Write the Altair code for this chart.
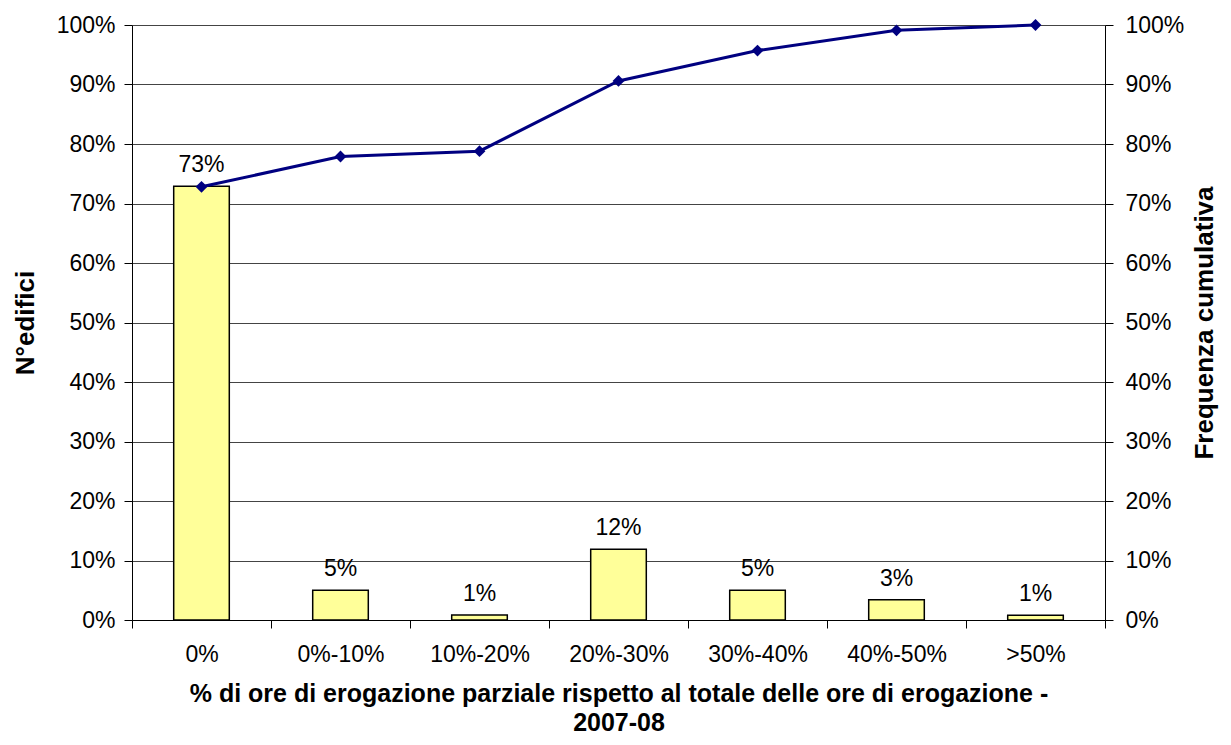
import altair as alt
import pandas as pd

categories = ["0%", "0%-10%", "10%-20%", "20%-30%", "30%-40%", "40%-50%", ">50%"]
edifici = [0.729, 0.050, 0.0085, 0.119, 0.050, 0.034, 0.008]
cumulativa = [0.728, 0.779, 0.788, 0.906, 0.957, 0.991, 1.0]

df = pd.DataFrame({"cat": categories, "edifici": edifici, "cum": cumulativa})

FONT = "Liberation Sans"
W, H = 973, 595
LFS, TFS = 23, 26

x = alt.X("cat:N", sort=categories, scale=alt.Scale(paddingInner=0, paddingOuter=0),
          axis=alt.Axis(title=["% di ore di erogazione parziale rispetto al totale delle ore di erogazione -", "2007-08"],
                        labelAngle=0, tickBand="extent", tickSize=8, tickColor="black",
                        domainColor="black", labelPadding=15, titlePadding=15,
                        labelFontSize=LFS, titleFontSize=25, titleFontWeight="bold",
                        labelFont=FONT, titleFont=FONT, labelColor="black", titleColor="black",
                        titleLineHeight=29))

yscale = alt.Scale(domain=[0, 1], nice=False, zero=True)

bars = alt.Chart(df).mark_bar(color="#FFFF99", stroke="black", strokeWidth=1.5,
                              width=alt.RelativeBandSize(0.4)).encode(
    x=x,
    y=alt.Y("edifici:Q", scale=yscale,
            axis=alt.Axis(title="N°edifici", format=".0%", values=[i / 10 for i in range(11)],
                          grid=True, gridColor="#444444", gridWidth=1, tickSize=8,
                          tickColor="black", domainColor="black", labelPadding=9,
                          titlePadding=18, labelFontSize=LFS, titleFontSize=TFS,
                          titleFontWeight="bold", labelFont=FONT, titleFont=FONT,
                          labelColor="black", titleColor="black")),
)

labels = alt.Chart(df).mark_text(baseline="bottom", dy=-9, fontSize=LFS, font=FONT, color="black").encode(
    x=alt.X("cat:N", sort=categories),
    y=alt.Y("edifici:Q", scale=yscale),
    text=alt.Text("edifici:Q", format=".0%"),
)

left = alt.layer(bars, labels)

line = alt.Chart(df).mark_line(color="#000080", strokeWidth=3,
                               point=alt.OverlayMarkDef(shape="diamond", size=140, filled=True, color="#000080")).encode(
    x=alt.X("cat:N", sort=categories),
    y=alt.Y("cum:Q", scale=yscale,
            axis=alt.Axis(title="Frequenza cumulativa", orient="right", format=".0%",
                          values=[i / 10 for i in range(11)], grid=False, tickSize=8,
                          tickColor="black", domainColor="black", labelPadding=12,
                          titlePadding=34, titleAngle=270, labelFontSize=LFS, titleFontSize=TFS,
                          titleFontWeight="bold", labelFont=FONT, titleFont=FONT,
                          labelColor="black", titleColor="black")),
)

chart = alt.layer(left, line).resolve_scale(y="independent").properties(
    width=W, height=H,
    autosize=alt.AutoSizeParams(type="none"),
    padding={"left": 124, "top": 17, "right": 1231 - 16 - 124 - W, "bottom": 745 - 16 - 17 - H},
).configure_view(stroke=None).configure(background="white")

chart.save("out.html", embed_options={"renderer": "svg", "actions": False})
